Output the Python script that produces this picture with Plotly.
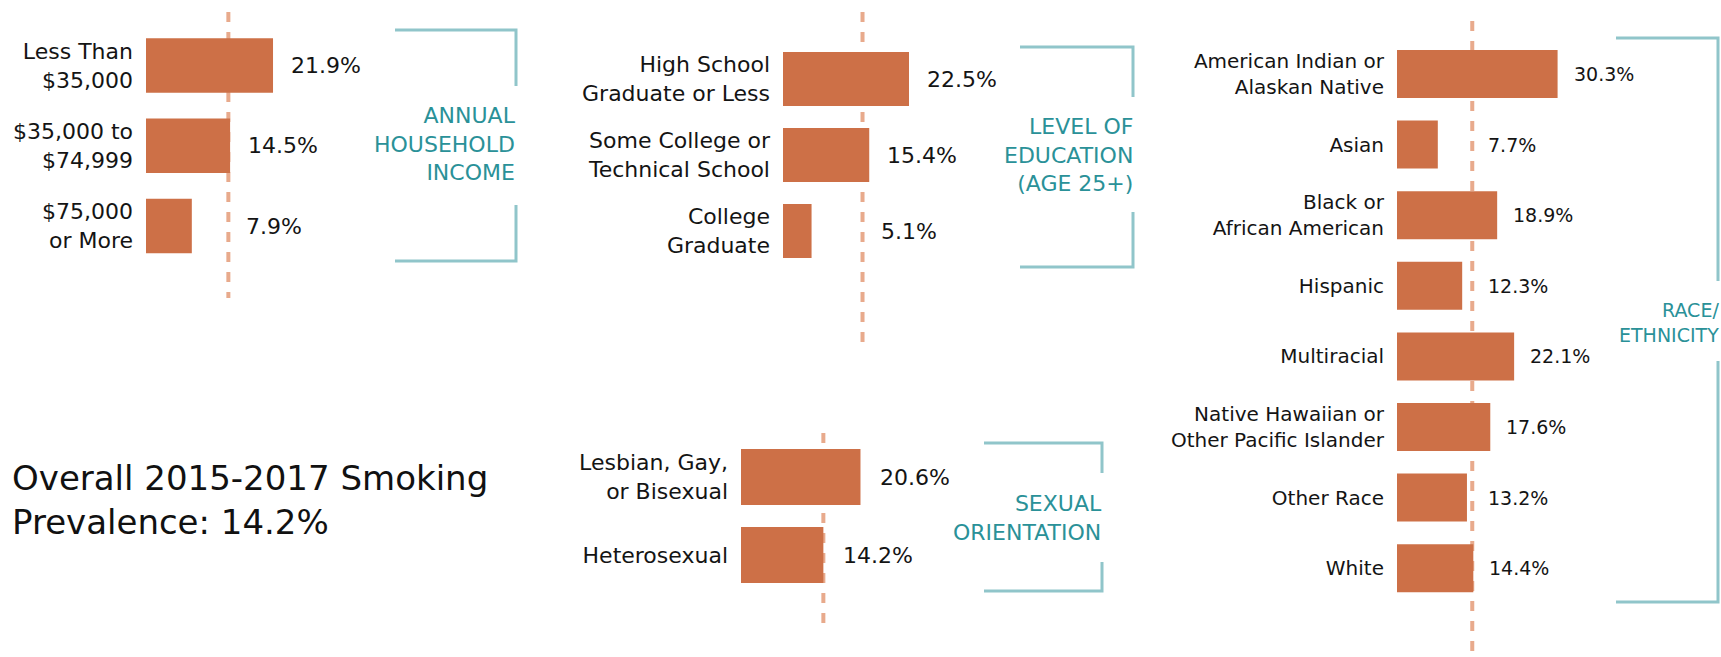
import plotly.graph_objects as go

W, H = 1721, 657
overall = 14.2

income_labels = ["Less Than<br>$35,000", "$35,000 to<br>$74,999", "$75,000<br>or More"]
income_values = [21.9, 14.5, 7.9]
edu_labels = ["High School<br>Graduate or Less", "Some College or<br>Technical School", "College<br>Graduate"]
edu_values = [22.5, 15.4, 5.1]
race_labels = ["American Indian or<br>Alaskan Native", "Asian", "Black or<br>African American", "Hispanic",
               "Multiracial", "Native Hawaiian or<br>Other Pacific Islander", "Other Race", "White"]
race_values = [30.3, 7.7, 18.9, 12.3, 22.1, 17.6, 13.2, 14.4]
sex_labels = ["Lesbian, Gay,<br>or Bisexual", "Heterosexual"]
sex_values = [20.6, 14.2]
group_titles = ["ANNUAL<br>HOUSEHOLD<br>INCOME", "LEVEL OF<br>EDUCATION<br>(AGE 25+)",
                "RACE/<br>ETHNICITY", "SEXUAL<br>ORIENTATION"]
overall_text = "Overall 2015-2017 Smoking<br>Prevalence: 14.2%"

BAR = "#CD7047"
DASH = "#E8AA8C"
TEAL = "#2A9198"
BRACKET = "#90C5CA"
TXT = "#141414"
FONT = "DejaVu Sans"


def px(x):
    return x / W


def py(y):
    return 1 - y / H


# layout specs for each panel (pixel geometry)
panels = [
    dict(labels=income_labels, values=income_values, left=146, scale=5.8, c0=65.5, pitch=80.25, bw=0.68,
         fs=22, vfs=22, shift=16, dash=(12, 298),
         br=(395, 516, 30, 86, 205, 261), title=group_titles[0], tx=518, ty=144, tfs=22),
    dict(labels=edu_labels, values=edu_values, left=783, scale=5.6, c0=79, pitch=76, bw=0.71,
         fs=22, vfs=22, shift=16, dash=(12, 342),
         br=(1020, 1133, 47, 97, 212, 267), title=group_titles[1], tx=1135, ty=155, tfs=22),
    dict(labels=race_labels, values=race_values, left=1397, scale=5.3, c0=74, pitch=70.6, bw=0.68,
         fs=20, vfs=19, shift=14, dash=(21, 657),
         br=(1616, 1718, 38, 281, 361, 602), title=group_titles[2], tx=1721, ty=322, tfs=19),
    dict(labels=sex_labels, values=sex_values, left=741, scale=5.8, c0=477, pitch=78, bw=0.72,
         fs=22, vfs=22, shift=18, dash=(433, 633),
         br=(984, 1102, 443, 473, 562, 591), title=group_titles[3], tx=1104, ty=518, tfs=22),
]

fig = go.Figure()
layout = dict(width=W, height=H, margin=dict(l=0, r=0, t=0, b=0), paper_bgcolor="white",
              plot_bgcolor="rgba(0,0,0,0)", showlegend=False, font=dict(family=FONT, color=TXT))
shapes = []
annotations = []
xr = 40

for i, p in enumerate(panels):
    n = len(p["labels"])
    xa = "x" if i == 0 else f"x{i+1}"
    ya = "y" if i == 0 else f"y{i+1}"
    xkey = "xaxis" if i == 0 else f"xaxis{i+1}"
    ykey = "yaxis" if i == 0 else f"yaxis{i+1}"
    fig.add_trace(go.Bar(x=p["values"], y=p["labels"], orientation="h", marker=dict(color=BAR, line=dict(width=0)),
                         width=p["bw"], xaxis=xa, yaxis=ya, hoverinfo="skip"))
    top = p["c0"] - p["pitch"] / 2
    bot = p["c0"] + (n - 0.5) * p["pitch"]
    layout[xkey] = dict(domain=[px(p["left"]), px(p["left"] + p["scale"] * xr)], range=[0, xr],
                        anchor=ya, showgrid=False, zeroline=False, showline=False, showticklabels=False,
                        fixedrange=True)
    layout[ykey] = dict(domain=[py(bot), py(top)], range=[n - 0.5, -0.5], type="category",
                        categoryorder="array", categoryarray=p["labels"], anchor=xa,
                        showgrid=False, zeroline=False, showline=False, ticks="", fixedrange=True,
                        ticklabelstandoff=12, tickfont=dict(size=p["fs"], color=TXT, family=FONT))
    # overall reference dashed line
    shapes.append(dict(type="line", xref=xa, yref="paper", x0=overall, x1=overall,
                       y0=py(p["dash"][0]), y1=py(p["dash"][1]),
                       line=dict(color=DASH, width=4, dash="10px,10px"), layer="below"))
    # value labels
    for lab, v in zip(p["labels"], p["values"]):
        annotations.append(dict(x=max(v, overall), y=lab, xref=xa, yref=ya, text=f"{v:.1f}%",
                                xanchor="left", yanchor="middle", xshift=p["shift"], showarrow=False,
                                font=dict(size=p["vfs"], color=TXT, family=FONT)))
    # bracket
    x0, x1, t, ue, ls, b = p["br"]
    shapes.append(dict(type="path", xref="paper", yref="paper",
                       path=f"M {px(x0)},{py(t)} L {px(x1)},{py(t)} L {px(x1)},{py(ue)}",
                       line=dict(color=BRACKET, width=3)))
    shapes.append(dict(type="path", xref="paper", yref="paper",
                       path=f"M {px(x1)},{py(ls)} L {px(x1)},{py(b)} L {px(x0)},{py(b)}",
                       line=dict(color=BRACKET, width=3)))
    annotations.append(dict(x=px(p["tx"]), y=py(p["ty"]), xref="paper", yref="paper", text=p["title"],
                            xanchor="right", yanchor="middle", align="right", showarrow=False,
                            font=dict(size=p["tfs"], color=TEAL, family=FONT)))

annotations.append(dict(x=px(10), y=py(500), xref="paper", yref="paper", text=overall_text,
                        xanchor="left", yanchor="middle", align="left", showarrow=False,
                        font=dict(size=34, color="#111111", family=FONT)))

layout["shapes"] = shapes
layout["annotations"] = annotations
fig.update_layout(**layout)
fig.write_html("out.html", config={"displayModeBar": False, "staticPlot": True},
               post_script="document.body.style.margin='0';document.body.style.padding='0';"
                           "document.documentElement.style.overflow='hidden';")
